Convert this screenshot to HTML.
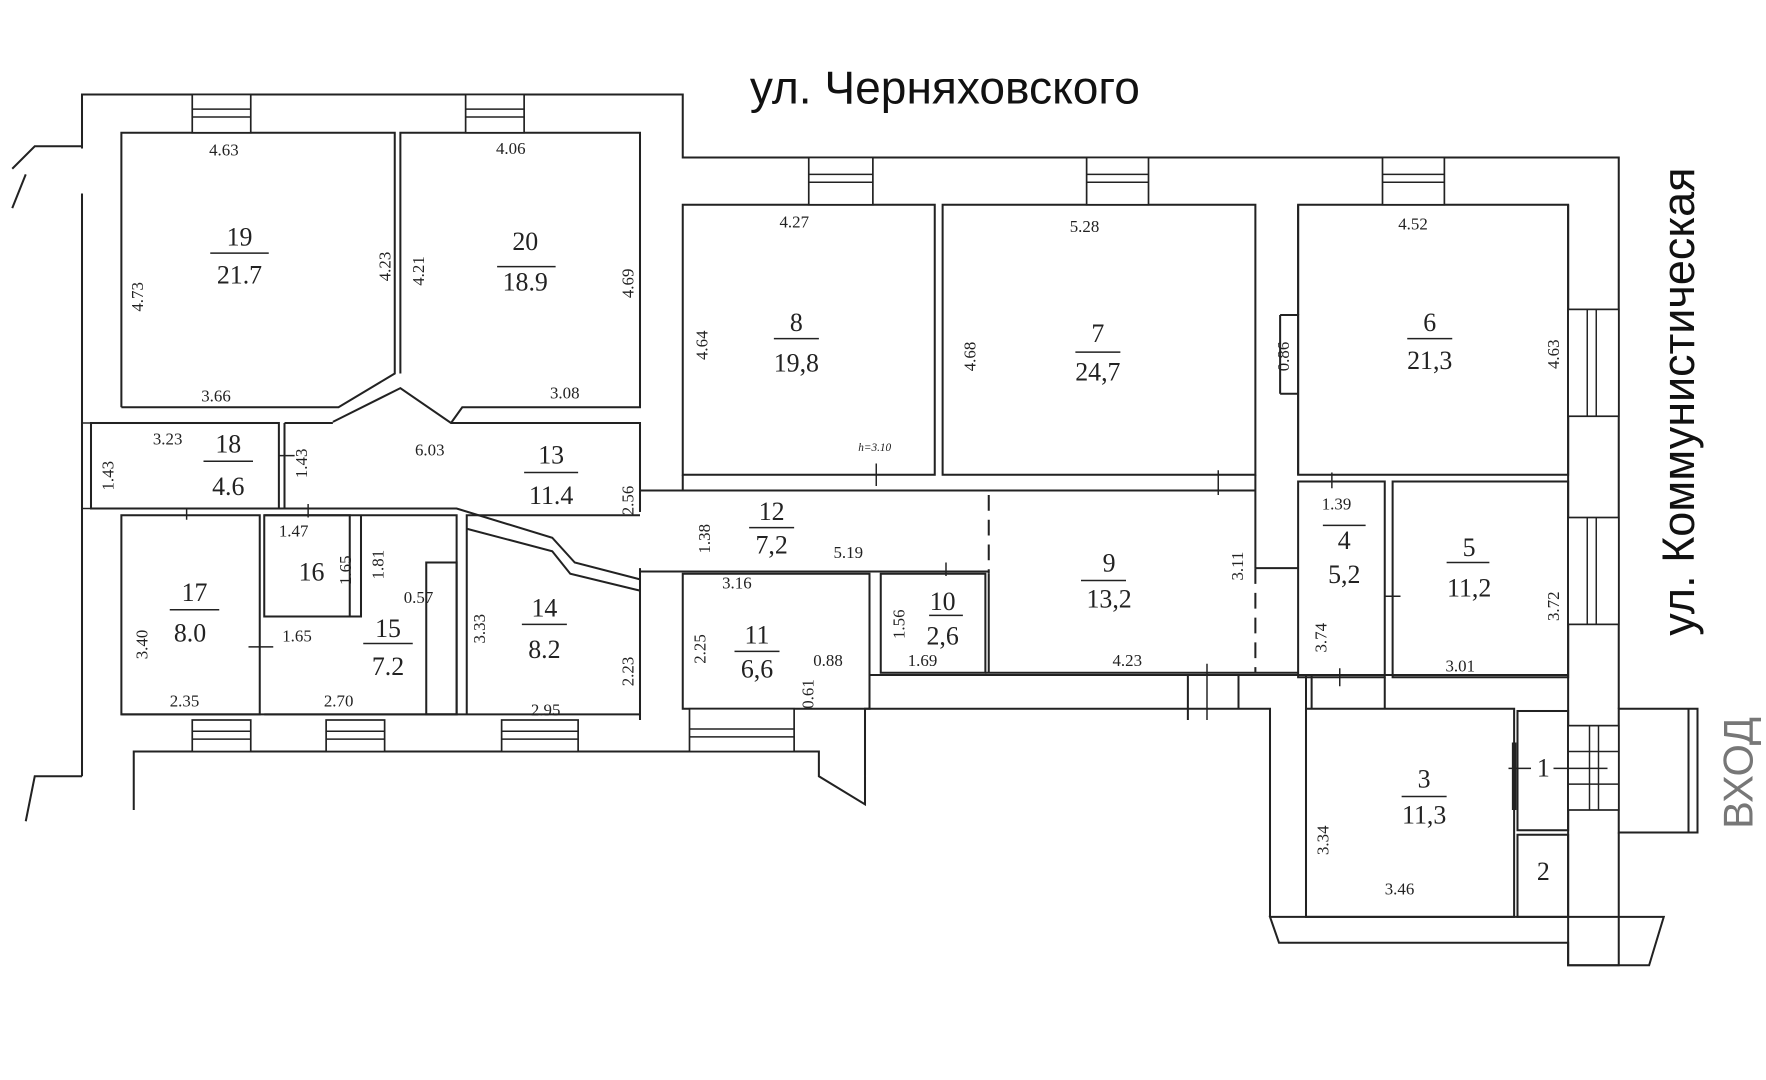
<!DOCTYPE html>
<html><head><meta charset="utf-8"><style>
html,body{margin:0;padding:0;background:#fff;width:1766px;height:1080px;overflow:hidden}
svg{display:block}
text{font-family:"Liberation Serif",serif;fill:#222}
.s{font-family:"Liberation Sans",sans-serif;font-size:15px}
.n{font-size:23px;text-anchor:middle}
</style></head><body>
<svg width="1766" height="1080" viewBox="0 0 1568 960" xmlns="http://www.w3.org/2000/svg">
<g fill="none" stroke="#222" stroke-width="1.8">
<polyline points="72,132 72,84 606,84 606,140 1438,140 1438,630"/>
<polyline points="72,172 72,690"/>
<polyline points="10,150 30,130 72,130"/>
<polyline points="10,185 22,155"/>
<polyline points="72,690 30,690 22,730"/>
<polyline points="118,720 118,668 727,668 727,690 768,715 768,630 1128,630 1128,815"/>
<polyline points="1438,740 1438,858 1393,858 1393,740"/>
<polygon points="1128,815 1478,815 1465,858 1393,858 1393,838 1136,838"/>
<rect x="1438" y="630" width="70" height="110"/>
<line x1="1500" y1="630" x2="1500" y2="740"/>
<polyline points="107,362 107,118 350,118 350,332 300,362 107,362"/>
<polyline points="355,332 355,118 568,118 568,362 410,362 400,376"/>
<polyline points="295,375 355,345 400,376 568,376 568,455"/>
<rect x="80" y="376" width="167" height="76"/>
<line x1="252" y1="376" x2="252" y2="452"/>
<line x1="252" y1="376" x2="295" y2="376"/>
<polyline points="80,452 405,452 490,478 510,500 568,515"/>
<polyline points="414,470 490,490 506,510 568,525"/>
<rect x="107" y="458" width="123" height="177"/>
<rect x="234" y="458" width="76" height="90"/>
<polyline points="234,548 320,548 320,458"/>
<polyline points="234,458 405,458 405,635 234,635"/>
<rect x="378" y="500" width="27" height="135"/>
<polyline points="414,635 414,458 568,458"/>
<line x1="107" y1="635" x2="568" y2="635"/>
<line x1="568" y1="505" x2="568" y2="640"/>
<rect x="606" y="182" width="224" height="240"/>
<rect x="837" y="182" width="278" height="240"/>
<rect x="1153" y="182" width="240" height="240"/>
<line x1="568" y1="436" x2="1115" y2="436"/>
<line x1="606" y1="422" x2="606" y2="436"/>
<line x1="568" y1="455" x2="568" y2="436"/>
<line x1="568" y1="508" x2="878" y2="508"/>
<rect x="606" y="510" width="166" height="120"/>
<rect x="782" y="510" width="93" height="88"/>
<line x1="878" y1="440" x2="878" y2="510" stroke-dasharray="14,8"/>
<line x1="878" y1="510" x2="878" y2="598"/>
<line x1="1115" y1="505" x2="1115" y2="598" stroke-dasharray="14,8"/>
<line x1="875" y1="598" x2="1153" y2="598"/>
<line x1="1115" y1="422" x2="1115" y2="505"/>
<line x1="1115" y1="505" x2="1153" y2="505"/>
<polyline points="1137,280 1153,280 1153,422"/>
<polyline points="1137,350 1153,350"/>
<line x1="1137" y1="280" x2="1137" y2="350"/>
<line x1="1153" y1="182" x2="1153" y2="280"/>
<rect x="1153" y="428" width="77" height="174"/>
<rect x="1237" y="428" width="156" height="174"/>
<line x1="772" y1="600" x2="1393" y2="600"/>
<line x1="1393" y1="182" x2="1393" y2="740"/>
<rect x="1160" y="630" width="185" height="185"/>
<rect x="1348" y="632" width="45" height="106"/>
<rect x="1348" y="742" width="45" height="73"/>
<line x1="1055" y1="600" x2="1055" y2="640"/>
<line x1="1100" y1="600" x2="1100" y2="630"/>
<line x1="1160" y1="600" x2="1160" y2="630"/>
<line x1="1165" y1="600" x2="1165" y2="630"/>
<line x1="1230" y1="602" x2="1230" y2="630"/>
</g>
<g fill="#fff" stroke="#222" stroke-width="1.5">
<rect x="170" y="84" width="52" height="34"/><rect x="413" y="84" width="52" height="34"/>
<rect x="718" y="140" width="57" height="42"/><rect x="965" y="140" width="55" height="42"/><rect x="1228" y="140" width="55" height="42"/>
<rect x="170" y="640" width="52" height="28"/><rect x="289" y="640" width="52" height="28"/><rect x="445" y="640" width="68" height="28"/><rect x="612" y="630" width="93" height="38"/>
<rect x="1393" y="275" width="45" height="95"/><rect x="1393" y="460" width="45" height="95"/>
<rect x="1393" y="645" width="45" height="75"/>
</g>
<g stroke="#222" stroke-width="1.3">
<path d="M170,97H222M170,104H222M413,97H465M413,104H465M718,155H775M718,162H775M965,155H1020M965,162H1020M1228,155H1283M1228,162H1283M170,650H222M170,657H222M289,650H341M289,657H341M445,650H513M445,657H513M612,648H705M612,655H705M1410,275V370M1418,275V370M1410,460V555M1418,460V555M1412,645V720M1420,645V720M1393,668H1438M1393,697H1438"/>
<path d="M165,452v10M273,448v12M778,412v20M1082,418v22M1183,420v14M1190,594v16M1072,590v50M1230,530H1244M220,575h22M247,405h14M840,500v12M1340,683h20M1380,683h48"/>
<rect x="72" y="376" width="8" height="76" fill="none"/>
<line x1="1345" y1="660" x2="1345" y2="720" stroke-width="4"/>
</g>
<g stroke="#222" stroke-width="1.3">
<path d="M186,225h52M441,237h52M687,301h40M955,313h40M1250,301h40M180,410h44M465,420h48M665,469h40M825,547h30M960,516h40M1175,467h38M1285,500h38M150,542h44M322,572h44M463,555h40M652,579h40M1245,708h40"/>
</g>
<g class="n">
<text x="212" y="218">19</text><text x="212" y="252">21.7</text>
<text x="466" y="222">20</text><text x="466" y="258">18.9</text>
<text x="707" y="294">8</text><text x="707" y="330">19,8</text>
<text x="975" y="304">7</text><text x="975" y="338">24,7</text>
<text x="1270" y="294">6</text><text x="1270" y="328">21,3</text>
<text x="202" y="402">18</text><text x="202" y="440">4.6</text>
<text x="489" y="412">13</text><text x="489" y="448">11.4</text>
<text x="685" y="462">12</text><text x="685" y="492">7,2</text>
<text x="985" y="508">9</text><text x="985" y="540">13,2</text>
<text x="1194" y="488">4</text><text x="1194" y="518">5,2</text>
<text x="1305" y="494">5</text><text x="1305" y="530">11,2</text>
<text x="276" y="516">16</text>
<text x="172" y="534">17</text><text x="168" y="570">8.0</text>
<text x="344" y="566">15</text><text x="344" y="600">7.2</text>
<text x="483" y="548">14</text><text x="483" y="585">8.2</text>
<text x="672" y="572">11</text><text x="672" y="602">6,6</text>
<text x="837" y="542">10</text><text x="837" y="573">2,6</text>
<text x="1265" y="700">3</text><text x="1265" y="732">11,3</text>
<text x="1371" y="690">1</text><text x="1371" y="782">2</text>
</g>
<g class="s">
<text x="185" y="138">4.63</text><text x="440" y="137">4.06</text><text x="692" y="202">4.27</text><text x="950" y="206">5.28</text><text x="1242" y="204">4.52</text>
<text x="178" y="357">3.66</text><text x="488" y="354">3.08</text><text x="135" y="395">3.23</text><text x="368" y="405">6.03</text>
<text x="247" y="477">1.47</text><text x="250" y="570">1.65</text><text x="358" y="536">0.57</text>
<text x="150" y="628">2.35</text><text x="287" y="628">2.70</text><text x="471" y="636">2.95</text>
<text x="740" y="496">5.19</text><text x="641" y="523">3.16</text><text x="722" y="592">0.88</text><text x="806" y="592">1.69</text><text x="988" y="592">4.23</text>
<text x="1174" y="453">1.39</text><text x="1284" y="597">3.01</text><text x="1230" y="795">3.46</text>
<text x="762" y="401" style="font-size:10px;font-style:italic">h=3.10</text>
</g>
<g class="s">
<text transform="translate(126,277) rotate(-90)">4.73</text>
<text transform="translate(346,250) rotate(-90)">4.23</text>
<text transform="translate(376,254) rotate(-90)">4.21</text>
<text transform="translate(562,265) rotate(-90)">4.69</text>
<text transform="translate(628,320) rotate(-90)">4.64</text>
<text transform="translate(866,330) rotate(-90)">4.68</text>
<text transform="translate(1145,330) rotate(-90)">0.86</text>
<text transform="translate(1385,328) rotate(-90)">4.63</text>
<text transform="translate(100,436) rotate(-90)">1.43</text>
<text transform="translate(272,425) rotate(-90)">1.43</text>
<text transform="translate(562,458) rotate(-90)">2.56</text>
<text transform="translate(630,492) rotate(-90)">1.38</text>
<text transform="translate(311,520) rotate(-90)">1.65</text>
<text transform="translate(340,515) rotate(-90)">1.81</text>
<text transform="translate(130,586) rotate(-90)">3.40</text>
<text transform="translate(430,572) rotate(-90)">3.33</text>
<text transform="translate(562,610) rotate(-90)">2.23</text>
<text transform="translate(626,590) rotate(-90)">2.25</text>
<text transform="translate(722,630) rotate(-90)">0.61</text>
<text transform="translate(803,568) rotate(-90)">1.56</text>
<text transform="translate(1104,516) rotate(-90)">3.11</text>
<text transform="translate(1178,580) rotate(-90)">3.74</text>
<text transform="translate(1385,552) rotate(-90)">3.72</text>
<text transform="translate(1180,760) rotate(-90)">3.34</text>
</g>
<text x="839" y="92" text-anchor="middle" style="font-family:'Liberation Sans',sans-serif;font-size:41px;fill:#111">ул. Черняховского</text>
<text transform="translate(1505,357) rotate(-90)" text-anchor="middle" style="font-family:'Liberation Sans',sans-serif;font-size:40px;fill:#111">ул. Коммунистическая</text>
<text transform="translate(1557,687) rotate(-90)" text-anchor="middle" style="font-family:'Liberation Sans',sans-serif;font-size:37px;fill:#777">ВХОД</text>
</svg>
</body></html>
